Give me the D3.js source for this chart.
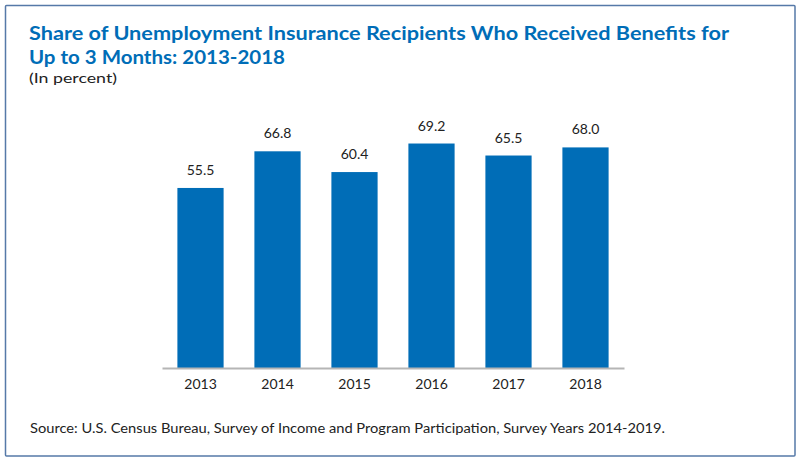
<!DOCTYPE html>
<html><head><meta charset="utf-8">
<script src="https://cdn.jsdelivr.net/npm/d3@7"></script>
<style>html,body{margin:0;padding:0;background:#fff;}svg{display:block;}</style>
</head><body>
<svg id="chart" width="800" height="462"></svg>
<script>
const categories = ["2013","2014","2015","2016","2017","2018"];
const values = [55.5, 66.8, 60.4, 69.2, 65.5, 68.0];
const valueLabels = ["55.5","66.8","60.4","69.2","65.5","68.0"];
const titleLines = ["Share of Unemployment Insurance Recipients Who Received Benefits for","Up to 3 Months: 2013-2018"];
const subtitle = "(In percent)";
const source = "Source: U.S. Census Bureau, Survey of Income and Program Participation, Survey Years 2014-2019.";

const svg = d3.select("#chart");
const blue = "#006db7";

svg.append("rect").attr("x",5.5).attr("y",5.5).attr("width",789.5).attr("height",450.5)
  .attr("fill","#fff").attr("stroke","#5679a8").attr("stroke-width",1.5).attr("rx",1);

const tfont = "Lato, 'Open Sans', sans-serif";

svg.append("text").attr("x",29).attr("y",40).text(titleLines[0])
  .attr("font-family",tfont).attr("font-weight",700).attr("font-size",19.5).attr("fill",blue)
  .attr("textLength",700).attr("lengthAdjust","spacingAndGlyphs");
svg.append("text").attr("x",29).attr("y",64).text(titleLines[1])
  .attr("font-family",tfont).attr("font-weight",700).attr("font-size",19.5).attr("fill",blue)
  .attr("textLength",256).attr("lengthAdjust","spacingAndGlyphs");
svg.append("text").attr("x",29).attr("y",83).text(subtitle)
  .attr("font-family",tfont).attr("font-size",14).attr("fill","#222")
  .attr("textLength",88).attr("lengthAdjust","spacingAndGlyphs");

const x = d3.scaleBand().domain(categories).range([162,624]).paddingInner(0.4).paddingOuter(0.2);
const y = d3.scaleLinear().domain([0,100]).range([368,43.6]);

svg.selectAll("rect.bar").data(values).enter().append("rect").attr("class","bar")
  .attr("x",(d,i)=>x(categories[i])).attr("width",x.bandwidth())
  .attr("y",d=>y(d)).attr("height",d=>y(0)-y(d)).attr("fill",blue);

svg.selectAll("text.val").data(values).enter().append("text").attr("class","val")
  .attr("x",(d,i)=>x(categories[i])+x.bandwidth()/2).attr("y",d=>y(d)-13)
  .attr("text-anchor","middle").attr("font-family",tfont).attr("font-size",14).attr("fill","#222")
  .text((d,i)=>valueLabels[i]);

const axis = d3.axisBottom(x).tickSize(0).tickPadding(11);
const g = svg.append("g").attr("transform","translate(0,368)").call(axis);
g.select(".domain").attr("stroke","#b5b5b5").attr("stroke-width",2);
g.selectAll("text").attr("font-family",tfont).attr("font-size",14).attr("fill","#222");

svg.append("text").attr("x",30).attr("y",433).text(source)
  .attr("font-family",tfont).attr("font-size",13.5).attr("fill","#222")
  .attr("textLength",635).attr("lengthAdjust","spacingAndGlyphs");
</script>
</body></html>
